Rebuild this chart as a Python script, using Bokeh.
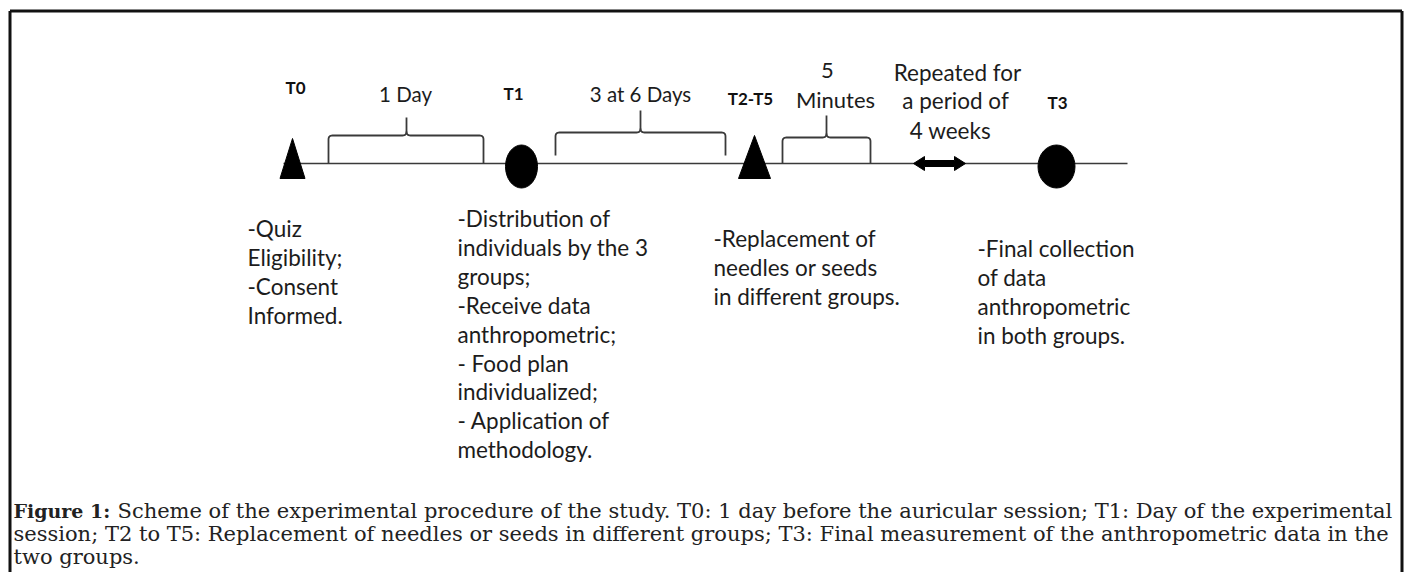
import numpy as np
from bokeh.plotting import figure
from bokeh.models import Range1d
from bokeh.core.properties import value
from bokeh.embed import file_html
from bokeh.resources import INLINE

# ---------------- data (pixel coordinates of the scheme) ----------------
W, H = 1405, 572

# timeline events
event_labels = ["T0", "T1", "T2-T5", "T3"]
event_label_x = [295, 513, 750, 1057]
event_label_y = [87, 93, 98, 102]
event_x = [292, 521, 754, 1056]
event_shape = ["triangle", "ellipse", "triangle", "ellipse"]
event_w = [25, 32, 32, 37]
event_h = [40, 43, 43, 43]
timeline_y = 163
timeline_x = [283, 1127]

# intervals (braces)
brace_x0 = [328, 555, 782]
brace_x1 = [483, 725, 870]
brace_xc = [406, 640, 826]
brace_yh = [135, 132, 137]
brace_ybot = [163, 155, 163]
brace_ytop = [117, 110, 115]
interval_text = ["1 Day", "3 at 6 Days", "5", "Minutes",
                 "Repeated for", "a period of", "4 weeks"]
interval_text_x = [405, 640, 827, 835, 957, 955, 950]
interval_text_y = [93, 93, 70, 99, 72, 100, 130]
interval_text_size = ["20.5px", "20.5px", "22px", "22px", "22.5px", "22.5px", "22.5px"]

# double arrow "repeated"
arrow_x = [913, 965]

# descriptions below the timeline
desc_blocks = [
    ["-Quiz", "Eligibility;", "-Consent", "Informed."],
    ["-Distribution of", "individuals by the 3", "groups;", "-Receive data",
     "anthropometric;", "- Food plan", "individualized;", "- Application of",
     "methodology."],
    ["-Replacement of", "needles or seeds", "in different groups."],
    ["-Final collection", "of data", "anthropometric", "in both groups."],
]
desc_x = [247, 457, 713, 977]
desc_y0 = [228, 218, 238, 248]
desc_dy = 28.9

caption_bold = "Figure 1:"
caption_lines = [
    "Scheme of the experimental procedure of the study. T0: 1 day before the auricular session; T1: Day of the experimental",
    "session; T2 to T5: Replacement of needles or seeds in different groups; T3: Final measurement of the anthropometric data in the",
    "two groups.",
]
caption_y = [510, 533, 556]
caption_x = [117, 13, 13]

# ---------------- figure ----------------
p = figure(width=W, height=H, x_range=Range1d(0, W), y_range=Range1d(H, 0),
           min_border=0, toolbar_location=None, output_backend="svg")
p.axis.visible = False
p.grid.visible = False
p.outline_line_color = None
p.background_fill_color = "white"
p.border_fill_color = "white"

INK = "#1c1c1c"
LINE = "#3a3a3a"
BODY_FONT = value("Lato")

# frame (open at the bottom)
FR_L, FR_T, FR_R = 9.5, 10.5, 1401.5
p.line([FR_L, FR_L], [H + 5, FR_T], line_color="#111111", line_width=3)
p.line([FR_L, FR_R], [FR_T, FR_T], line_color="#111111", line_width=3)
p.line([FR_R, FR_R], [FR_T, H + 5], line_color="#111111", line_width=3)

# timeline
p.line(timeline_x, [timeline_y, timeline_y], line_color=LINE, line_width=1.6)

# events
tri_xs, tri_ys = [], []
ell_x, ell_w, ell_h = [], [], []
for x, s, w, h in zip(event_x, event_shape, event_w, event_h):
    if s == "triangle":
        tri_xs.append([x - w / 2, x, x + w / 2])
        tri_ys.append([timeline_y + 15, timeline_y + 15 - h, timeline_y + 15])
    else:
        ell_x.append(x)
        ell_w.append(w)
        ell_h.append(h)
p.patches(tri_xs, tri_ys, fill_color="black", line_color="black", line_width=1)
p.ellipse(ell_x, [timeline_y + 3] * len(ell_x), width=ell_w, height=ell_h,
          fill_color="black", line_color="black")

p.text(event_label_x, event_label_y, text=event_labels, text_align="center",
       text_baseline="middle", text_font=BODY_FONT, text_font_style="bold",
       text_font_size="17px", text_color="#111111")


# braces
def quad(a, c, b, n=8):
    t = np.linspace(0, 1, n)[:, None]
    a, c, b = map(np.array, (a, c, b))
    return (1 - t) ** 2 * a + 2 * (1 - t) * t * c + t ** 2 * b


bxs, bys = [], []
r = 4
for x0, x1, xc, yh, yb, yt in zip(brace_x0, brace_x1, brace_xc, brace_yh, brace_ybot, brace_ytop):
    left = np.vstack([[x0, yb], quad((x0, yh + r), (x0, yh), (x0 + r, yh)),
                      quad((xc - r, yh), (xc, yh), (xc, yh - r)), [xc, yt]])
    right = np.vstack([[xc, yh - r], quad((xc, yh - r), (xc, yh), (xc + r, yh)),
                       quad((x1 - r, yh), (x1, yh), (x1, yh + r)), [x1, yb]])
    bxs += [list(left[:, 0]), list(right[:, 0])]
    bys += [list(left[:, 1]), list(right[:, 1])]
p.multi_line(bxs, bys, line_color=LINE, line_width=1.8)

for t, x, y, s in zip(interval_text, interval_text_x, interval_text_y, interval_text_size):
    p.text([x], [y], text=[t], text_align="center", text_baseline="middle",
           text_font=BODY_FONT, text_font_size=s, text_color=INK)

# double-headed arrow
ax0, ax1 = arrow_x
hl, hh, bh = 11, 7, 3
ty = timeline_y
p.patch([ax0, ax0 + hl, ax0 + hl, ax1 - hl, ax1 - hl, ax1, ax1 - hl, ax1 - hl, ax0 + hl, ax0 + hl],
        [ty, ty - hh, ty - bh, ty - bh, ty - hh, ty, ty + hh, ty + bh, ty + bh, ty + hh],
        fill_color="black", line_color="black", line_width=1, line_join="round")

# description blocks
for lines, x, y0 in zip(desc_blocks, desc_x, desc_y0):
    ys = [y0 + i * desc_dy for i in range(len(lines))]
    p.text([x] * len(lines), ys, text=lines, text_align="left", text_baseline="middle",
           text_font=BODY_FONT, text_font_size="22.5px", text_color=INK)

# caption
p.text([13], [caption_y[0]], text=[caption_bold], text_align="left", text_baseline="middle",
       text_font=value("DejaVu Serif"), text_font_style="bold", text_font_size="19px",
       text_color="#222222")
p.text(caption_x, caption_y, text=caption_lines, text_align="left", text_baseline="middle",
       text_font=value("DejaVu Serif"), text_font_size="21px", text_color="#222222")

open("out.html", "w").write(file_html(p, INLINE))
